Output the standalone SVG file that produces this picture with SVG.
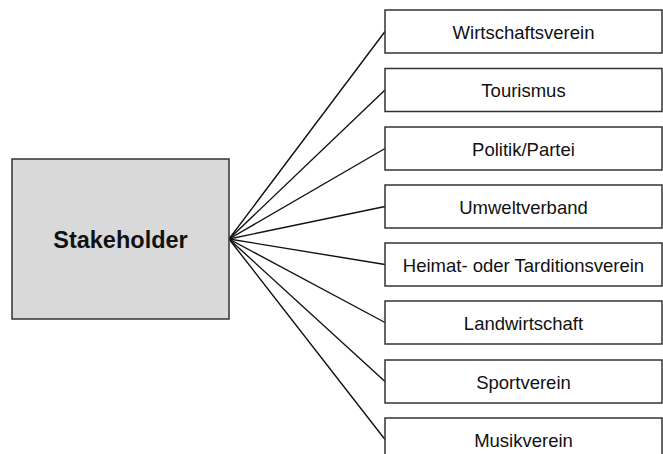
<svg xmlns="http://www.w3.org/2000/svg" width="663" height="454" viewBox="0 0 663 454">
<style>
.box{fill:#ffffff;stroke:#333333;stroke-width:1.5}
.main{fill:#d9d9d9;stroke:#333333;stroke-width:1.5}
.lbl{font-family:"Liberation Sans",Arial,sans-serif;font-size:18.5px;fill:#111111;text-anchor:middle}
.big{font-family:"Liberation Sans",Arial,sans-serif;font-size:23.5px;font-weight:bold;fill:#111111;text-anchor:middle}
.con line{stroke:#111111;stroke-width:1.4}
</style>
<rect width="663" height="454" fill="#ffffff"/>
<g id="connectors" class="con">
<line x1="229" y1="239" x2="385" y2="31.5"/>
<line x1="229" y1="239" x2="385" y2="90"/>
<line x1="229" y1="239" x2="385" y2="148.5"/>
<line x1="229" y1="239" x2="385" y2="206.5"/>
<line x1="229" y1="239" x2="385" y2="264.5"/>
<line x1="229" y1="239" x2="385" y2="322.5"/>
<line x1="229" y1="239" x2="385" y2="381.5"/>
<line x1="229" y1="239" x2="385" y2="439.5"/>
</g>
<g id="stakeholder">
<rect class="main" x="12" y="159" width="217" height="160"/>
<text class="big" x="120.5" y="248">Stakeholder</text>
</g>
<g id="n1"><rect class="box" x="385" y="10" width="277" height="43"/><text class="lbl" x="523.5" y="38.5">Wirtschaftsverein</text></g>
<g id="n2"><rect class="box" x="385" y="68.5" width="277" height="43"/><text class="lbl" x="523.5" y="97">Tourismus</text></g>
<g id="n3"><rect class="box" x="385" y="127" width="277" height="43"/><text class="lbl" x="523.5" y="155.5">Politik/Partei</text></g>
<g id="n4"><rect class="box" x="385" y="185" width="277" height="43"/><text class="lbl" x="523.5" y="213.5">Umweltverband</text></g>
<g id="n5"><rect class="box" x="385" y="243" width="277" height="43"/><text class="lbl" x="523.5" y="271.5">Heimat- oder Tarditionsverein</text></g>
<g id="n6"><rect class="box" x="385" y="301" width="277" height="43"/><text class="lbl" x="523.5" y="329.5">Landwirtschaft</text></g>
<g id="n7"><rect class="box" x="385" y="360" width="277" height="43"/><text class="lbl" x="523.5" y="388.5">Sportverein</text></g>
<g id="n8"><rect class="box" x="385" y="418" width="277" height="43"/><text class="lbl" x="523.5" y="446.5">Musikverein</text></g>
</svg>
